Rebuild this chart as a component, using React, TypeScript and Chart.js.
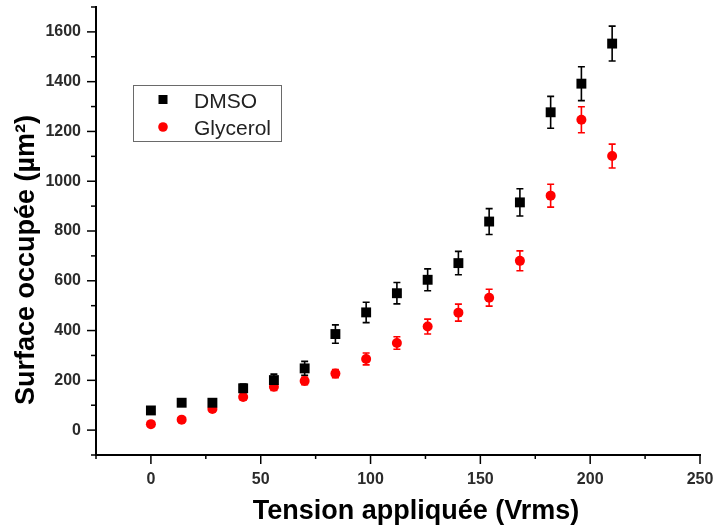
import React, { useEffect, useRef } from "react";
import { Chart, registerables } from "chart.js";

Chart.register(...registerables);

const xValues = [0, 14, 28, 42, 56, 70, 84, 98, 112, 126, 140, 154, 168, 182, 196, 210];
const dmsoValues = [79, 110, 110, 168, 201, 248, 386, 473, 550, 604, 671, 838, 915, 1277, 1392, 1553];
const dmsoErrors = [5, 12, 12, 17, 24, 28, 37, 41, 43, 44, 47, 52, 55, 64, 68, 70];
const glycerolValues = [24, 42, 85, 133, 174, 197, 227, 286, 350, 416, 472, 532, 680, 942, 1247, 1101];
const glycerolErrors = [8, 8, 10, 12, 15, 15, 16, 24, 25, 30, 34, 34, 40, 46, 52, 48];

const seriesLabels = ["DMSO", "Glycerol"];
const xTitle = "Tension appliquée (Vrms)";
const yTitle = "Surface occupée (µm²)";

const FONT = "'Liberation Sans', Arial, sans-serif";

const errorBarPlugin = {
  id: "errorBars",
  beforeDatasetsDraw(chart: any) {
    const { ctx, scales } = chart;
    const xs = scales.x;
    const ys = scales.y;
    chart.data.datasets.forEach((ds: any) => {
      const errs: number[] = ds.errors || [];
      ctx.save();
      ctx.strokeStyle = ds.borderColor;
      ctx.lineWidth = 1.6;
      ds.data.forEach((p: any, i: number) => {
        const e = errs[i] || 0;
        const px = xs.getPixelForValue(p.x);
        const top = ys.getPixelForValue(p.y + e);
        const bot = ys.getPixelForValue(p.y - e);
        ctx.beginPath();
        ctx.moveTo(px, top);
        ctx.lineTo(px, bot);
        ctx.moveTo(px - 3.5, top);
        ctx.lineTo(px + 3.5, top);
        ctx.moveTo(px - 3.5, bot);
        ctx.lineTo(px + 3.5, bot);
        ctx.stroke();
      });
      ctx.restore();
    });
  },
};

const decorPlugin = {
  id: "decor",
  afterDraw(chart: any) {
    const { ctx, scales, chartArea } = chart;
    const xs = scales.x;
    const ys = scales.y;
    ctx.save();
    ctx.strokeStyle = "#000";
    ctx.lineWidth = 1.5;
    ys.ticks.forEach((t: any) => {
      const v = t.value;
      const py = ys.getPixelForValue(v);
      const major = v >= 0 && v % 200 === 0;
      const len = major ? 9 : 5;
      ctx.beginPath();
      ctx.moveTo(chartArea.left, py);
      ctx.lineTo(chartArea.left - len, py);
      ctx.stroke();
    });
    xs.ticks.forEach((t: any) => {
      const v = t.value;
      const px = xs.getPixelForValue(v);
      const major = v >= 0 && v % 50 === 0;
      const len = major ? 9 : 4;
      ctx.beginPath();
      ctx.moveTo(px, chartArea.bottom);
      ctx.lineTo(px, chartArea.bottom + len);
      ctx.stroke();
    });

    ctx.fillStyle = "#000";
    ctx.font = `bold 27px ${FONT}`;
    ctx.textAlign = "center";
    ctx.textBaseline = "middle";
    ctx.fillText(xTitle, 416, 512);
    ctx.save();
    ctx.translate(27, 260);
    ctx.rotate(-Math.PI / 2);
    ctx.fillText(yTitle, 0, 0);
    ctx.restore();

    ctx.strokeStyle = "#6a6a6a";
    ctx.lineWidth = 1;
    ctx.strokeRect(133.5, 85.5, 148, 56);
    ctx.fillStyle = "#000";
    ctx.fillRect(158.5, 95, 9, 9);
    ctx.fillStyle = "#ff0000";
    ctx.beginPath();
    ctx.arc(163, 127, 4.8, 0, Math.PI * 2);
    ctx.fill();
    ctx.fillStyle = "#222";
    ctx.font = `21px ${FONT}`;
    ctx.textAlign = "left";
    ctx.textBaseline = "alphabetic";
    ctx.fillText(seriesLabels[0], 194, 107.5);
    ctx.fillText(seriesLabels[1], 194, 135);
    ctx.restore();
  },
};

const zeroPad = (s: any) => {
  s.paddingTop = 0;
  s.paddingBottom = 0;
  s.paddingLeft = 0;
  s.paddingRight = 0;
};

export default function App() {
  const ref = useRef<HTMLCanvasElement | null>(null);

  useEffect(() => {
    if (!ref.current) return;
    const chart = new Chart(ref.current, {
      type: "scatter",
      data: {
        datasets: [
          {
            label: seriesLabels[0],
            data: xValues.map((x, i) => ({ x, y: dmsoValues[i] })),
            errors: dmsoErrors,
            pointStyle: "rect",
            pointRadius: 7,
            backgroundColor: "#000",
            borderColor: "#000",
            borderWidth: 0,
          } as any,
          {
            label: seriesLabels[1],
            data: xValues.map((x, i) => ({ x, y: glycerolValues[i] })),
            errors: glycerolErrors,
            pointStyle: "circle",
            pointRadius: 5,
            backgroundColor: "#ff0000",
            borderColor: "#ff0000",
            borderWidth: 0,
          } as any,
        ],
      },
      options: {
        animation: false,
        responsive: true,
        maintainAspectRatio: false,
        layout: { padding: { top: 7, right: 14, left: 0, bottom: 0 } },
        plugins: {
          legend: { display: false },
          tooltip: { enabled: false },
        },
        scales: {
          x: {
            type: "linear",
            min: -25,
            max: 250,
            grid: { display: false, drawTicks: false },
            border: { display: true, color: "#000", width: 2 },
            ticks: {
              stepSize: 25,
              padding: 15,
              color: "#2b2b2b",
              font: { family: FONT, size: 16, weight: "bold" },
              callback: (v: any) => (v >= 0 && v % 50 === 0 ? String(v) : ""),
              maxRotation: 0,
              autoSkip: false,
            },
            afterFit: (s: any) => {
              s.height = 76;
              zeroPad(s);
            },
          },
          y: {
            type: "linear",
            min: -100,
            max: 1700,
            grid: { display: false, drawTicks: false },
            border: { display: true, color: "#000", width: 2 },
            ticks: {
              stepSize: 100,
              padding: 15,
              color: "#2b2b2b",
              font: { family: FONT, size: 16, weight: "bold" },
              callback: (v: any) => (v >= 0 && v % 200 === 0 ? String(v) : ""),
              autoSkip: false,
            },
            afterFit: (s: any) => {
              s.width = 96;
              zeroPad(s);
            },
          },
        },
      } as any,
      plugins: [errorBarPlugin, decorPlugin],
    });
    return () => chart.destroy();
  }, []);

  return (
    <div style={{ position: "absolute", left: 0, top: 0, width: 714, height: 531, background: "#fff" }}>
      <canvas ref={ref} />
    </div>
  );
}
